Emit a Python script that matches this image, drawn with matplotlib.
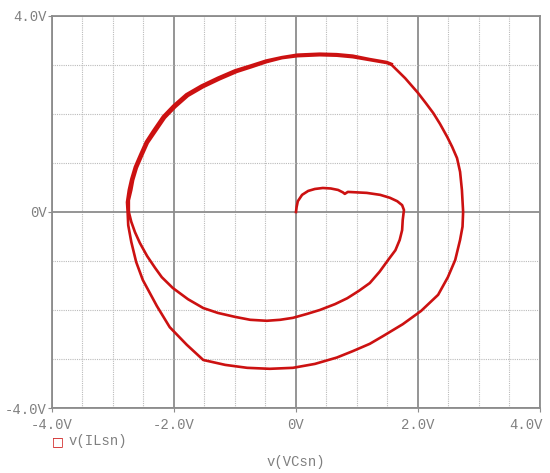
import matplotlib
matplotlib.use('Agg')
import matplotlib.pyplot as plt
from matplotlib.ticker import MultipleLocator
from matplotlib.transforms import ScaledTranslation

# Données : v(VCsn) en abscisse, v(ILsn) en ordonnée
# Départ à l'origine et petite boucle
x_depart = [0.00, 0.01, 0.03, 0.10, 0.20, 0.31, 0.44, 0.57, 0.69, 0.77, 0.80, 0.85, 1.00,
            1.16, 1.38, 1.54, 1.66, 1.74, 1.77]
y_depart = [0.00, 0.10, 0.22, 0.35, 0.43, 0.47, 0.49, 0.48, 0.45, 0.40, 0.37, 0.41, 0.40,
            0.39, 0.35, 0.29, 0.22, 0.14, 0.04]
# Spirale intérieure
x_interieur = [1.75, 1.74, 1.70, 1.63, 1.51, 1.37, 1.21, 1.03, 0.84, 0.64, 0.39, 0.18,
               -0.05, -0.26, -0.48, -0.75, -1.00, -1.28, -1.52, -1.77, -2.02, -2.20,
               -2.31, -2.44, -2.56, -2.64, -2.70, -2.74]
y_interieur = [-0.16, -0.37, -0.57, -0.78, -0.98, -1.22, -1.45, -1.61, -1.76, -1.88,
               -2.00, -2.08, -2.16, -2.20, -2.22, -2.20, -2.14, -2.06, -1.96, -1.78,
               -1.55, -1.33, -1.14, -0.90, -0.63, -0.41, -0.20, 0.00]
# Premier tour extérieur (partie haute)
x_tour1_haut = [-2.74, -2.70, -2.67, -2.61, -2.52, -2.43, -2.31, -2.15, -1.98, -1.77,
                -1.52, -1.25, -0.97, -0.72, -0.48, -0.23, 0.02, 0.39, 0.67, 0.93, 1.21,
                1.49, 1.57]
y_tour1_haut = [0.24, 0.45, 0.65, 0.90, 1.16, 1.41, 1.63, 1.92, 2.14, 2.37, 2.55, 2.71,
                2.86, 2.96, 3.06, 3.14, 3.18, 3.20, 3.19, 3.16, 3.10, 3.04, 3.00]
# Premier tour extérieur (côté droit et partie basse)
x_tour1_bas = [1.79, 2.00, 2.13, 2.25, 2.36, 2.48, 2.56, 2.64, 2.69, 2.72, 2.74, 2.73,
               2.69, 2.61, 2.49, 2.33, 2.05, 1.75, 1.43, 1.21, 0.93, 0.67, 0.31, -0.05,
               -0.43, -0.80, -1.16, -1.52, -1.66, -1.79, -2.07, -2.28, -2.51, -2.62,
               -2.70, -2.75, -2.76]
y_tour1_bas = [2.73, 2.43, 2.22, 2.02, 1.80, 1.53, 1.33, 1.10, 0.82, 0.45, 0.00, -0.30,
               -0.57, -0.98, -1.33, -1.69, -2.02, -2.29, -2.53, -2.69, -2.84, -2.97,
               -3.10, -3.18, -3.20, -3.18, -3.12, -3.02, -2.86, -2.71, -2.35, -1.92,
               -1.39, -1.02, -0.61, -0.27, 0.00]
# Second tour (s'arrête en haut à droite)
x_tour2 = [-2.77, -2.74, -2.70, -2.64, -2.55, -2.46, -2.34, -2.18, -2.01, -1.80, -1.55,
           -1.28, -1.00, -0.74, -0.49, -0.23, 0.02, 0.39, 0.67, 0.93, 1.21, 1.49, 1.57]
y_tour2 = [0.20, 0.45, 0.67, 0.92, 1.18, 1.43, 1.66, 1.95, 2.17, 2.40, 2.58, 2.74, 2.89,
           2.99, 3.09, 3.16, 3.21, 3.23, 3.22, 3.19, 3.12, 3.06, 3.02]

vcsn = x_depart + x_interieur + x_tour1_haut + x_tour1_bas + x_tour2
ilsn = y_depart + y_interieur + y_tour1_haut + y_tour1_bas + y_tour2

x_ticks = [-4, -2, 0, 2, 4]
x_labels = ['-4.0V', '-2.0V', '0V', '2.0V', '4.0V']
y_ticks = [-4, 0, 4]
y_labels = ['-4.0V', '0V', '4.0V']

gris = '#8c8c8c'
texte = '#808080'
rouge = '#cc1111'

fig = plt.figure(figsize=(5.5, 4.73), dpi=100)
ax = fig.add_axes([0.0945, 0.1374, 0.8873, 0.8288])

ax.plot(vcsn, ilsn, color=rouge, linewidth=1.9, zorder=3,
        solid_joinstyle='round')

ax.set_xlim(-4, 4)
ax.set_ylim(-4, 4)

# Grille : traits pleins pour les graduations principales, pointillés pour les secondaires
ax.xaxis.set_minor_locator(MultipleLocator(0.5))
ax.yaxis.set_minor_locator(MultipleLocator(1))
ax.set_xticks(x_ticks)
ax.set_xticklabels(x_labels)
ax.set_yticks(y_ticks)
ax.set_yticklabels(y_labels)
ax.grid(which='major', color=gris, linewidth=1.3, linestyle='-')
ax.grid(which='minor', color='#bbbbbb', linewidth=0.8, linestyle=(0, (1, 1)))
ax.set_axisbelow(True)

for s in ax.spines.values():
    s.set_color(gris)
    s.set_linewidth(1.3)

ax.tick_params(which='major', length=3, color=gris, labelcolor=texte, labelsize=10)
ax.tick_params(axis='x', pad=4)
ax.tick_params(axis='y', pad=1)
ax.tick_params(which='minor', length=0)
for lab in ax.get_xticklabels() + ax.get_yticklabels():
    lab.set_family('Liberation Mono')

# le dernier libellé est décalé vers la gauche pour rester dans l'image
dernier = ax.get_xticklabels()[-1]
dernier.set_transform(dernier.get_transform() + ScaledTranslation(-10 / 72, 0, fig.dpi_scale_trans))

ax.set_xlabel('v(VCsn)', family='Liberation Mono', fontsize=10, color=texte, labelpad=17)

# Légende façon PSpice
fig.text(0.105, 0.067, '\u25a1', color=rouge, fontsize=9, va='center', ha='center',
         family='DejaVu Sans')
fig.text(0.124, 0.067, 'v(ILsn)', color=texte, fontsize=10, va='center',
         family='Liberation Mono')

fig.savefig('out.png', dpi=100)
